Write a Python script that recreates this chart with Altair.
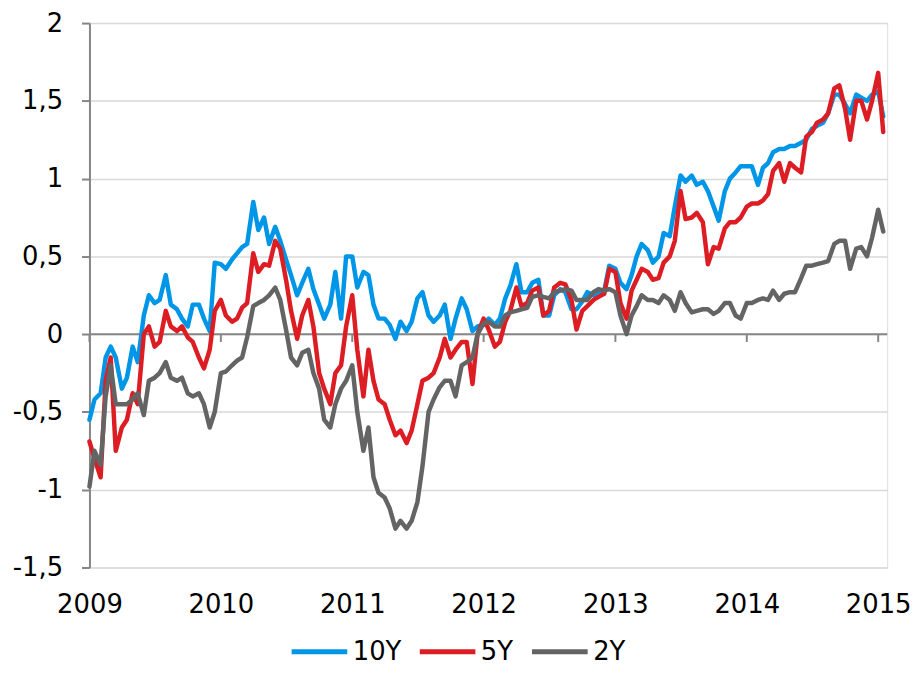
import altair as alt
import pandas as pd

# semi-monthly observation dates, Jan 2009 - Jan 2015
dates = pd.date_range("2009-01-01", periods=146, freq="SMS").strftime("%Y-%m-%dT00:00:00").tolist()

y10 = [-0.55, -0.42, -0.38, -0.15, -0.08, -0.15, -0.35, -0.28, -0.08, -0.18,
       0.12, 0.25, 0.20, 0.22, 0.38, 0.19, 0.16, 0.10, 0.05, 0.19,
       0.19, 0.10, 0.02, 0.46, 0.45, 0.42, 0.48, 0.52, 0.56, 0.58,
       0.85, 0.67, 0.75, 0.58, 0.69, 0.60, 0.48, 0.38, 0.25, 0.33,
       0.42, 0.29, 0.19, 0.10, 0.19, 0.40, 0.10, 0.50, 0.50, 0.30,
       0.40, 0.38, 0.19, 0.10, 0.10, 0.06, -0.03, 0.08, 0.02, 0.08,
       0.23, 0.27, 0.12, 0.08, 0.12, 0.19, -0.03, 0.10, 0.23, 0.16,
       0.02, 0.05, 0.06, 0.10, 0.06, 0.10, 0.23, 0.31, 0.45, 0.27,
       0.27, 0.33, 0.35, 0.12, 0.12, 0.25, 0.29, 0.27, 0.16, 0.16,
       0.21, 0.27, 0.25, 0.27, 0.28, 0.44, 0.42, 0.33, 0.29, 0.38,
       0.50, 0.58, 0.54, 0.46, 0.50, 0.65, 0.63, 0.82, 1.02, 0.98,
       1.02, 0.96, 0.98, 0.92, 0.82, 0.73, 0.92, 1.00, 1.04, 1.08,
       1.08, 1.08, 0.96, 1.07, 1.10, 1.17, 1.19, 1.19, 1.21, 1.21,
       1.23, 1.25, 1.32, 1.34, 1.36, 1.42, 1.54, 1.54, 1.48, 1.42,
       1.54, 1.52, 1.50, 1.54, 1.56, 1.40]

y5 = [-0.69, -0.80, -0.92, -0.30, -0.15, -0.75, -0.60, -0.55, -0.38, -0.45,
      0.00, 0.05, -0.08, -0.05, 0.15, 0.05, 0.02, 0.05, -0.02, -0.05,
      -0.15, -0.22, -0.10, 0.15, 0.22, 0.12, 0.08, 0.10, 0.17, 0.20,
      0.52, 0.40, 0.45, 0.44, 0.60, 0.55, 0.35, 0.15, -0.03, 0.12,
      0.22, 0.05, -0.25, -0.35, -0.45, -0.25, -0.20, 0.05, 0.25, -0.10,
      -0.40, -0.10, -0.30, -0.42, -0.45, -0.55, -0.65, -0.62, -0.70, -0.62,
      -0.45, -0.30, -0.28, -0.25, -0.15, -0.03, -0.15, -0.10, -0.05, -0.05,
      -0.32, 0.00, 0.10, 0.03, -0.08, -0.05, 0.08, 0.15, 0.30, 0.18,
      0.20, 0.28, 0.30, 0.12, 0.15, 0.30, 0.33, 0.32, 0.22, 0.03,
      0.15, 0.18, 0.22, 0.24, 0.26, 0.42, 0.40, 0.20, 0.10, 0.28,
      0.35, 0.42, 0.40, 0.35, 0.36, 0.46, 0.50, 0.60, 0.92, 0.74,
      0.75, 0.78, 0.72, 0.45, 0.56, 0.55, 0.68, 0.72, 0.72, 0.75,
      0.82, 0.84, 0.84, 0.86, 0.90, 1.05, 1.10, 0.98, 1.10, 1.07,
      1.04, 1.27, 1.30, 1.36, 1.38, 1.42, 1.58, 1.60, 1.45, 1.25,
      1.50, 1.50, 1.38, 1.50, 1.68, 1.30]

y2 = [-0.98, -0.75, -0.84, -0.40, -0.20, -0.45, -0.45, -0.45, -0.42, -0.38,
      -0.52, -0.30, -0.28, -0.25, -0.18, -0.28, -0.30, -0.28, -0.38, -0.40,
      -0.38, -0.45, -0.60, -0.50, -0.25, -0.24, -0.20, -0.17, -0.15, -0.02,
      0.18, 0.20, 0.22, 0.25, 0.30, 0.22, 0.03, -0.15, -0.20, -0.12,
      -0.10, -0.25, -0.35, -0.55, -0.60, -0.45, -0.35, -0.30, -0.20, -0.50,
      -0.75, -0.60, -0.92, -1.02, -1.05, -1.12, -1.25, -1.20, -1.25, -1.20,
      -1.08, -0.85, -0.50, -0.42, -0.34, -0.30, -0.30, -0.40, -0.20, -0.18,
      -0.15, 0.00, 0.07, 0.08, 0.05, 0.05, 0.12, 0.14, 0.15, 0.16,
      0.17, 0.24, 0.25, 0.24, 0.23, 0.27, 0.28, 0.29, 0.28, 0.22,
      0.22, 0.22, 0.27, 0.29, 0.28, 0.29, 0.27, 0.12, 0.00, 0.12,
      0.18, 0.25, 0.22, 0.22, 0.20, 0.25, 0.22, 0.15, 0.27, 0.20,
      0.14, 0.15, 0.16, 0.16, 0.13, 0.15, 0.20, 0.20, 0.12, 0.10,
      0.20, 0.20, 0.22, 0.23, 0.22, 0.28, 0.22, 0.26, 0.27, 0.27,
      0.36, 0.44, 0.44, 0.45, 0.46, 0.47, 0.58, 0.60, 0.60, 0.42,
      0.55, 0.56, 0.50, 0.62, 0.80, 0.66]

series_names = ["10Y", "5Y", "2Y"]
series_colors = ["#0096E8", "#DC1E24", "#646464"]
year_ticks = list(range(2009, 2016))
y_ticks = [-1.5, -1, -0.5, 0, 0.5, 1, 1.5, 2]

rows = []
for name, vals in zip(series_names, [y10, y5, y2]):
    for d, v in zip(dates, vals):
        rows.append({"date": d, "value": v, "series": name})
df = pd.DataFrame(rows)

FONT = "DejaVu Sans"
x_domain = [alt.DateTime(year=2009, month=1, date=1), alt.DateTime(year=2015, month=1, date=26)]
y_scale = alt.Scale(domain=[-1.5, 2], nice=False, zero=False)
x_scale = alt.Scale(domain=x_domain)

x_axis = alt.Axis(
    title=None,
    values=[alt.DateTime(year=y, month=1, date=1) for y in year_ticks],
    format="%Y",
    domain=False,
    ticks=False,
    tickSize=0,
    grid=False,
    labelFont=FONT,
    labelFontSize=26,
    labelColor="#000000",
    labelPadding=24,
    labelFlush=False,
    labelOverlap=False,
    labelBound=False,
)
y_axis = alt.Axis(
    title=None,
    values=y_ticks,
    labelExpr="replace(toString(datum.value), '.', ',')",
    domain=True,
    domainColor="#868686",
    domainWidth=2,
    ticks=True,
    tickColor="#868686",
    tickSize=8,
    tickWidth=2,
    grid=True,
    gridColor="#D9D9D9",
    gridWidth=1.5,
    labelFont=FONT,
    labelFontSize=26,
    labelColor="#000000",
    labelPadding=19,
)

zero_df = pd.DataFrame({"value": [0]})
zero_line = alt.Chart(zero_df).mark_rule(color="#868686", strokeWidth=2).encode(
    y=alt.Y("value:Q", scale=y_scale, axis=y_axis)
)

tick_df = pd.DataFrame({
    "date": [f"{y}-01-01T00:00:00" for y in year_ticks],
    "v0": [0.0] * len(year_ticks),
    "v1": [-0.05] * len(year_ticks),
})
year_marks = alt.Chart(tick_df).mark_rule(color="#868686", strokeWidth=2).encode(
    x=alt.X("date:T", scale=x_scale, axis=x_axis),
    y=alt.Y("v0:Q", scale=y_scale, axis=y_axis),
    y2="v1:Q",
)

lines = alt.Chart(df).mark_line(strokeWidth=4.5, strokeJoin="round", strokeCap="round").encode(
    x=alt.X("date:T", scale=x_scale, axis=x_axis),
    y=alt.Y("value:Q", scale=y_scale, axis=y_axis),
    color=alt.Color(
        "series:N",
        scale=alt.Scale(domain=series_names, range=series_colors),
        legend=alt.Legend(
            title=None,
            orient="none",
            legendX=201,
            legendY=602,
            direction="horizontal",
            symbolType="stroke",
            symbolSize=3136,
            symbolStrokeWidth=5,
            labelFont=FONT,
            labelFontSize=26,
            labelColor="#000000",
            labelOffset=3,
            columnPadding=8,
            labelLimit=200,
            padding=0,
        ),
    ),
)

chart = alt.layer(zero_line, year_marks, lines).properties(
    width=803,
    height=548,
    autosize=alt.AutoSizeParams(type="none"),
    padding={"left": 82, "top": 13, "right": 28, "bottom": 100},
).configure_view(stroke=None).configure(background="#FFFFFF")

chart.save("out.html", embed_options={"renderer": "svg", "actions": False})
